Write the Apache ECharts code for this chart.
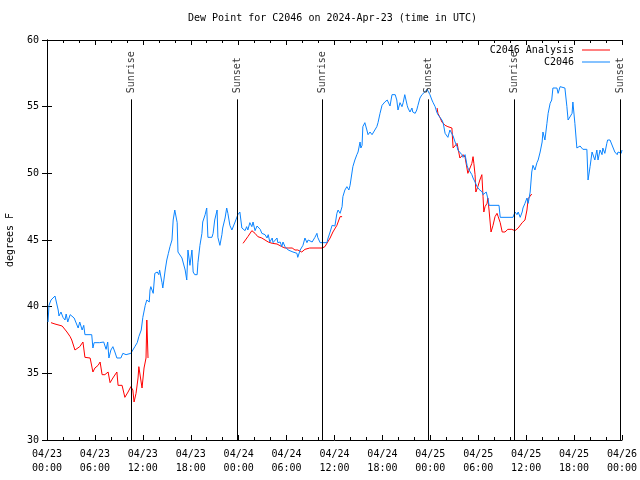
<!DOCTYPE html>
<html><head><meta charset="utf-8">
<script src="https://cdn.jsdelivr.net/npm/echarts@6/dist/echarts.min.js"></script>
<style>html,body{margin:0;padding:0;background:#fff}#c{width:640px;height:480px}</style>
</head><body><div id="c"></div>
<script>
// hours since 2024-04-23 00:00 UTC, dew point (F)
const obsData = [
[0.13,38.85],[0.25,40.1],[0.5,40.5],[0.75,40.35],[1.0,40.8],[1.25,40.95],[1.4,39.75],[1.5,39.3],[1.75,39.6],[2.0,39.2],
[2.25,39.0],[2.4,39.45],[2.6,38.85],[2.9,39.4],[3.1,39.5],[3.4,39.15],[3.6,38.85],[3.9,38.4],[4.1,38.85],[4.4,38.25],
[4.6,38.6],[4.75,37.9],[5.0,37.9],[5.6,37.9],[5.75,36.9],[5.9,37.3],[6.6,37.3],[7.1,37.35],[7.4,36.8],[7.6,37.35],
[7.75,36.15],[8.0,36.75],[8.25,37.0],[8.5,36.6],[8.75,36.15],[9.25,36.15],[9.5,36.5],[9.9,36.4],[10.5,36.5],[10.75,36.5],
[11.0,37.0],[11.3,37.3],[11.5,37.75],[11.8,38.25],[12.0,39.2],[12.3,40.1],[12.5,40.5],[12.6,40.65],[12.8,40.35],[12.9,41.25],
[13.0,41.5],[13.3,41.0],[13.5,42.5],[13.8,42.6],[14.0,42.4],[14.1,42.75],[14.4,41.8],[14.5,41.4],[14.8,42.75],[15.0,43.5],
[15.2,44.0],[15.4,44.5],[15.65,45.0],[15.8,46.5],[16.0,47.25],[16.3,46.3],[16.4,44.1],[16.65,44.1],[16.9,43.65],[17.15,43.5],
[17.3,42.75],[17.5,42.0],[17.65,44.25],[17.9,43.1],[18.15,44.25],[18.3,42.6],[18.5,42.4],[18.8,42.4],[18.9,43.3],[19.15,44.6],
[19.4,45.5],[19.5,46.35],[19.8,46.9],[20.0,47.4],[20.15,45.2],[20.65,45.2],[20.8,45.5],[21.0,46.5],[21.3,47.25],[21.4,45.2],
[21.65,44.6],[21.9,45.4],[22.0,45.9],[22.3,46.65],[22.5,47.4],[22.65,47.0],[22.9,46.1],[23.15,45.75],[23.3,45.6],[23.55,46.35],
[23.8,46.5],[23.9,46.9],[24.15,47.1],[24.4,45.9],[24.55,46.05],[24.8,45.7],[25.0,46.0],[25.15,45.75],[25.4,46.3],[25.65,46.0],
[25.8,46.35],[26.05,45.7],[26.3,46.05],[26.7,45.8],[26.9,45.5],[27.05,45.6],[27.3,45.4],[27.55,45.15],[27.7,45.4],[27.9,44.85],
[28.2,45.15],[28.3,44.8],[28.55,44.85],[28.8,45.15],[28.9,44.8],[29.2,44.85],[29.4,44.5],[29.55,44.85],[29.8,44.5],[30.2,44.25],
[30.4,44.4],[30.8,44.1],[31.05,44.2],[31.3,44.0],[31.4,43.7],[31.7,44.25],[31.9,44.1],[32.05,44.6],[32.3,45.15],[32.55,44.8],
[32.7,45.0],[32.9,45.0],[33.2,44.85],[33.3,44.8],[33.55,45.2],[33.8,45.5],[33.9,45.2],[34.2,44.8],[35.05,44.8],[35.2,45.15],
[35.45,45.6],[35.7,46.1],[35.8,46.25],[36.05,46.05],[36.3,47.0],[36.45,47.25],[36.7,47.0],[36.95,47.5],[37.05,48.25],[37.3,48.75],
[37.55,49.0],[37.8,48.75],[37.95,49.1],[38.2,49.1],[38.3,50.5],[38.55,51.0],[38.8,51.4],[38.95,51.6],[39.2,52.35],[39.3,51.9],
[39.45,52.1],[39.55,53.5],[39.8,53.8],[40.05,53.25],[40.2,52.9],[40.45,53.1],[40.7,52.9],[40.8,53.0],[41.05,53.25],[41.3,53.5],
[41.45,53.8],[41.7,54.5],[41.95,55.1],[42.3,55.35],[42.6,55.5],[42.8,55.5],[42.95,55.05],[43.2,55.9],[43.6,55.9],[43.8,55.5],
[43.95,54.75],[44.2,55.3],[44.45,55.0],[44.6,55.3],[44.8,55.9],[45.1,55.1],[45.2,54.9],[45.45,54.6],[45.7,54.9],[45.8,54.6],
[46.1,54.5],[46.3,54.75],[46.45,55.1],[46.7,55.65],[46.95,55.9],[47.3,56.1],[47.6,56.3],[47.8,56.2],[47.95,55.9],[48.2,55.5],
[48.35,55.3],[48.6,55.0],[48.8,54.6],[48.95,54.4],[49.2,54.4],[49.45,54.0],[49.6,53.8],[49.85,53.0],[50.1,53.1],[50.2,52.7],
[50.45,53.25],[50.7,53.4],[50.85,52.8],[51.1,52.35],[51.35,52.0],[51.45,51.75],[51.7,51.6],[51.95,51.4],[52.1,51.2],[52.35,51.4],
[52.6,50.6],[52.7,50.4],[53.0,50.1],[53.2,49.9],[53.35,49.65],[53.6,49.35],[53.85,49.0],[54.1,48.8],[54.5,48.6],[54.6,48.4],
[55.0,48.6],[55.25,48.0],[55.35,47.6],[56.6,47.6],[56.75,46.7],[58.35,46.7],[58.6,47.1],[58.85,46.9],[59.0,47.1],[59.25,46.7],
[59.5,47.1],[59.6,47.4],[59.85,47.75],[60.1,48.15],[60.25,47.75],[60.5,48.6],[60.7,50.1],[60.85,50.6],[61.1,50.25],[61.35,50.8],
[61.5,51.0],[61.75,51.6],[62.0,52.35],[62.1,53.1],[62.35,52.5],[62.6,53.75],[62.75,54.5],[63.0,55.25],[63.2,55.5],[63.35,56.4],
[63.6,56.5],[63.85,56.4],[64.0,56.0],[64.25,56.5],[64.85,56.4],[65.1,55.0],[65.25,54.0],[65.45,53.85],[65.75,54.5],[65.85,55.35],
[66.1,53.75],[66.35,51.9],[66.75,52.05],[67.1,51.8],[67.6,51.8],[67.75,49.5],[68.0,50.5],[68.25,51.6],[68.35,51.75],[68.6,51.0],
[68.85,51.75],[69.0,51.0],[69.25,51.75],[69.5,51.4],[69.6,51.9],[69.85,51.5],[70.1,52.25],[70.2,52.5],[70.5,52.5],[70.75,52.35],
[70.9,51.9],[71.1,51.6],[71.4,51.4],[71.5,51.6],[71.75,51.75],[71.9,51.5],[72.0,51.75]
];
const analysisSeg1 = [
[0.5,38.8],[1.0,38.7],[1.9,38.55],[2.0,38.5],[2.5,38.1],[2.9,37.75],[3.1,37.5],[3.5,36.75],[3.75,36.75],[4.1,37.0],
[4.5,37.35],[4.75,36.2],[5.4,36.15],[5.6,36.0],[5.75,35.1],[6.0,35.4],[6.4,35.6],[6.65,35.85],[6.9,34.9],[7.25,34.9],
[7.65,35.1],[7.9,34.3],[8.25,34.65],[8.75,35.1],[8.9,34.1],[9.4,34.1],[9.75,33.2],[10.15,33.6],[10.5,34.0],[10.75,33.75],
[10.9,32.85],[11.15,33.5],[11.4,34.65],[11.5,35.5],[11.75,35.5],[11.9,33.9],[12.0,33.9],[12.15,35.4],[12.4,36.15],[12.5,39.0],
[12.65,36.15]
];
const analysisSeg2 = [
[24.55,44.75],[24.8,44.85],[25.15,45.25],[25.65,45.7],[26.05,45.5],[26.4,45.25],[26.9,45.15],[27.3,45.0],[27.7,44.85],[28.2,44.75],
[28.8,44.7],[29.4,44.5],[29.8,44.4],[30.2,44.4],[30.7,44.4],[31.05,44.25],[31.4,44.25],[31.9,44.1],[32.3,44.3],[32.9,44.4],
[34.45,44.4],[34.8,44.5],[35.05,44.6],[35.45,45.15],[35.8,45.6],[36.3,46.1],[36.7,46.75],[36.95,46.75]
];
const analysisSeg3 = [
[48.85,54.9],[48.95,54.5],[49.2,54.2],[49.45,53.85],[49.6,53.8],[49.85,53.6],[50.2,53.5],[50.7,53.4],[50.85,51.9],[51.1,52.0],
[51.35,52.25],[51.45,52.1],[51.7,51.15],[52.1,51.4],[52.35,51.2],[52.6,51.15],[52.7,50.0],[52.85,50.1],[53.2,50.75],[53.35,51.25],
[53.45,50.75],[53.6,49.9],[53.7,48.6],[53.95,49.0],[54.2,49.5],[54.45,49.9],[54.6,48.25],[54.7,47.1],[54.85,47.5],[55.1,47.75],
[55.2,48.15],[55.35,47.25],[55.6,45.6],[55.85,46.1],[56.1,46.75],[56.35,47.0],[56.5,46.75],[56.75,46.3],[57.0,45.6],[57.35,45.6],
[57.7,45.8],[58.2,45.8],[58.6,45.7],[59.0,45.9],[59.5,46.3],[59.85,46.5],[60.1,47.25],[60.25,48.1],[60.7,48.45]
];
const sunNames = ['Sunrise','Sunset','Sunrise','Sunset','Sunrise','Sunset'];
const sunHours = [10.52, 23.83, 34.47, 47.71, 58.52, 71.84];
const dayLabels = ['04/23','04/24','04/25','04/26'];
const yMin = 30, yMax = 60, yStep = 5;
const xMin = 0, xMax = 72, xStep = 6;

const FONT = 'DejaVu Sans Mono';
const analysisData = analysisSeg1.concat([['-','-']], analysisSeg2, [['-','-']], analysisSeg3);
function xLabel(h){
  const d = Math.floor(h/24), hh = Math.round(h - d*24);
  return dayLabels[d] + '\n' + (hh<10?'0':'') + hh + ':00';
}
const chart = echarts.init(document.getElementById('c'), null, {renderer:'canvas'});
const axisCommon = {
  axisLine:{show:true,lineStyle:{color:'#000',width:1}},
  splitLine:{show:false},
};
const legendCommon = {orient:'vertical',align:'right',right:30,padding:0,itemWidth:28,itemHeight:1,icon:'rect',
  textStyle:{fontFamily:FONT,fontSize:10,color:'#000',padding:[0,3,0,0]}};
chart.setOption({
  animation:false,
  backgroundColor:'#fff',
  textStyle:{fontFamily:FONT,color:'#000'},
  title:{text:'Dew Point for C2046 on 2024-Apr-23 (time in UTC)',left:188,top:13,padding:0,
    textStyle:{fontFamily:FONT,fontSize:10,fontWeight:'normal',color:'#000'}},
  legend:[
    Object.assign({data:['C2046 Analysis'],top:45},legendCommon),
    Object.assign({data:['C2046'],top:57},legendCommon)
  ],
  grid:{left:47,right:18,top:40,bottom:40,containLabel:false,outerBoundsMode:'none'},
  xAxis:[
    Object.assign({type:'value',min:xMin,max:xMax,interval:xStep,position:'bottom',
      axisTick:{show:true,inside:true,length:5,lineStyle:{color:'#000'}},
      minorTick:{show:true,splitNumber:3,length:3,lineStyle:{color:'#000'}},
      axisLabel:{formatter:xLabel,fontFamily:FONT,fontSize:10,color:'#000',lineHeight:14,margin:7}},axisCommon),
    Object.assign({type:'value',min:xMin,max:xMax,interval:xStep,position:'top',
      axisTick:{show:true,inside:true,length:5,lineStyle:{color:'#000'}},
      minorTick:{show:true,splitNumber:3,length:3,lineStyle:{color:'#000'}},
      axisLabel:{show:false}},axisCommon)
  ],
  yAxis:[
    Object.assign({type:'value',min:yMin,max:yMax,interval:yStep,position:'left',
      name:'degrees F',nameLocation:'middle',nameGap:32,nameRotate:90,
      nameTextStyle:{fontFamily:FONT,fontSize:10,color:'#000'},
      axisTick:{show:true,inside:true,length:5,lineStyle:{color:'#000'}},
      axisLabel:{fontFamily:FONT,fontSize:10,color:'#000',margin:8}},axisCommon),
    Object.assign({type:'value',min:yMin,max:yMax,interval:yStep,position:'right',
      axisTick:{show:true,inside:true,length:5,lineStyle:{color:'#000'}},
      axisLabel:{show:false}},axisCommon)
  ],
  series:[
    {name:'C2046 Analysis',type:'line',data:analysisData,symbol:'none',connectNulls:false,
     lineStyle:{color:'#ff0000',width:1},itemStyle:{color:'#ff0000'},z:2},
    {name:'C2046',type:'line',data:obsData,symbol:'none',
     lineStyle:{color:'#0a84ff',width:1},itemStyle:{color:'#0a84ff'},z:3},
    {name:'sun',type:'scatter',symbolSize:0,silent:true,z:4,
     data:sunHours.map((h,i)=>({value:[h,56.0],name:sunNames[i]})),
     label:{show:true,formatter:p=>p.name,position:'inside',rotate:90,align:'left',verticalAlign:'middle',
       fontFamily:FONT,fontSize:10,color:'#000'},
     markLine:{silent:true,symbol:'none',label:{show:false},animation:false,
       lineStyle:{color:'#000',width:1,type:'solid'},
       data:sunHours.map(h=>[{coord:[h,yMin]},{coord:[h,55.55]}])}}
  ]
});
</script></body></html>
